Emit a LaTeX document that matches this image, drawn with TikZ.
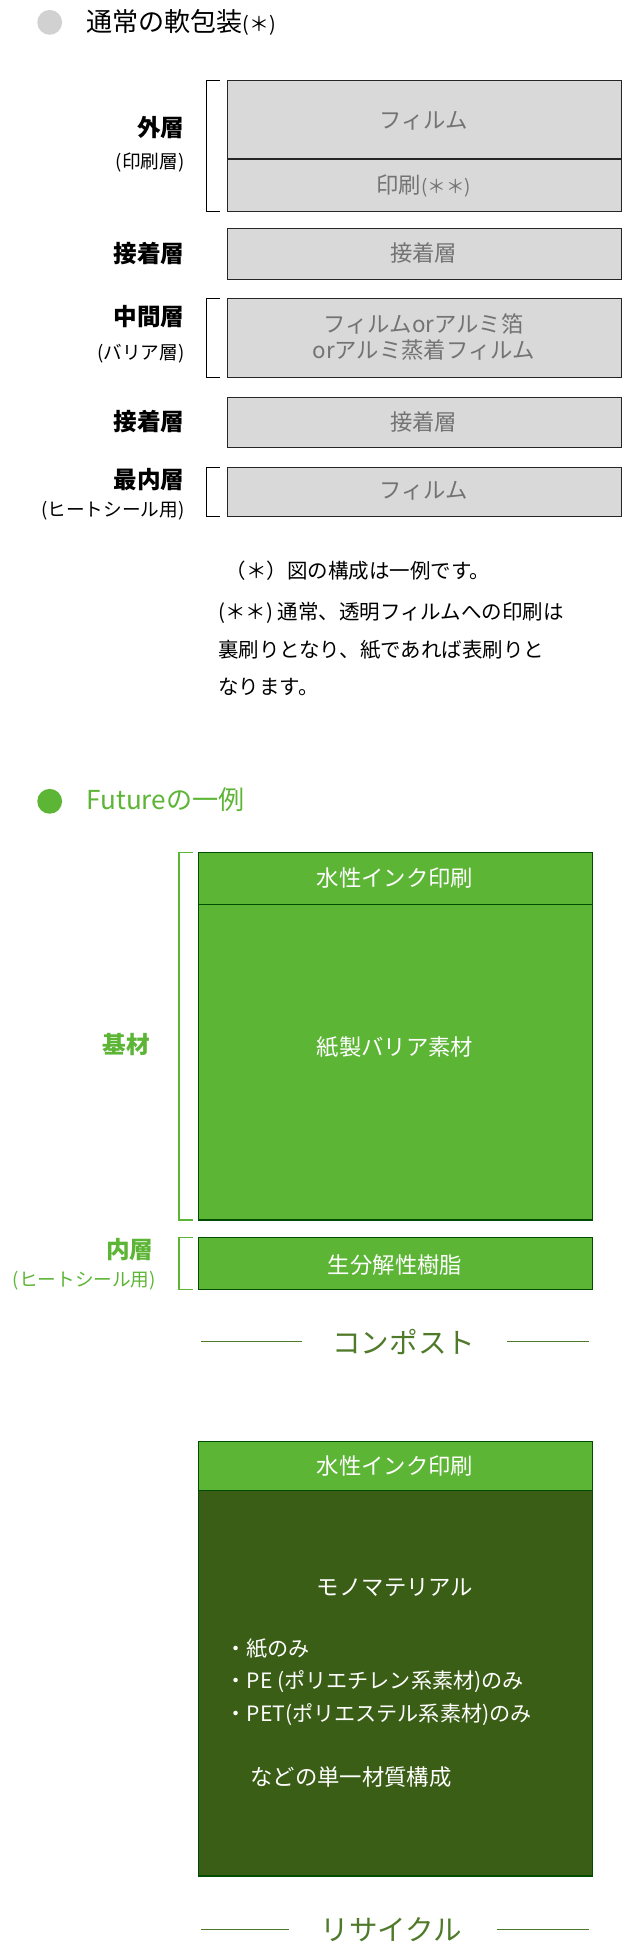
\documentclass[tikz,border=0pt]{standalone}
\usepackage{fontspec}
\setmainfont{Noto Sans CJK JP}
\newfontfamily\medf{Noto Sans CJK JP Medium}
\begin{document}
\begin{tikzpicture}[x=1pt,y=-1pt,
  gbox/.style={draw=black!85,fill=black!15,line width=1pt},
  gtxt/.style={text=black!55,font=\fontsize{18}{21}\selectfont},
  lab/.style={anchor=east,font=\bfseries\fontsize{19}{21}\selectfont},
  sub/.style={anchor=east,font=\fontsize{15}{17}\selectfont},
  brk/.style={line width=1pt},
  lbox/.style={draw=green!30!black,fill=lgreen,line width=1pt},
  wt/.style={text=white,font=\fontsize{18}{21}\selectfont}]
\definecolor{lgreen}{HTML}{5DB536}
\definecolor{dgreen}{HTML}{3B5E17}
\definecolor{tgreen}{HTML}{5DB536}
\definecolor{ogreen}{HTML}{4F7A2A}
\useasboundingbox (0,0) rectangle (504,1568);
% section 1
\fill[black!18] (40,18) circle (10);
\node[anchor=west,font=\fontsize{21}{23}\selectfont] (t1) at (66,18) {通常の軟包装\fontsize{16}{17}\selectfont(＊)};
\draw[gbox] (183,65) rectangle (500,170);
\draw[line width=1pt,black!85] (183,128) -- (500,128);
\node[gtxt] (f1) at (341,97) {フィルム};
\node[gtxt] (p1) at (341,150) {印刷\fontsize{15}{16}\selectfont(＊＊)};
\draw[gbox] (183,184) rectangle (500,225); \node[gtxt] (a1) at (341,204) {接着層};
\draw[gbox] (183,240) rectangle (500,304);
\node[gtxt,align=center] (m1) at (341,271) {フィルムorアルミ箔\\orアルミ蒸着フィルム};
\draw[gbox] (183,320) rectangle (500,360); \node[gtxt] (a2) at (341,340) {接着層};
\draw[gbox] (183,376) rectangle (500,416); \node[gtxt] (f2) at (341,395) {フィルム};
\node[lab] at (152,103) {外層}; \node[sub] at (152,131) {(印刷層)};
\node[lab] at (152,204) {接着層};
\node[lab] at (152,255) {中間層}; \node[sub] at (152,285) {(バリア層)};
\node[lab] at (152,339) {接着層};
\node[lab] at (152,386) {最内層}; \node[sub] at (152,411) {(ヒートシール用)};
\draw[brk] (177,65)--(166,65)--(166,170)--(177,170);
\draw[brk] (177,240)--(166,240)--(166,304)--(177,304);
\draw[brk] (177,376)--(166,376)--(166,416)--(177,416);
\node[anchor=west,font=\fontsize{16.5}{20}\selectfont] at (178,459) {（＊）図の構成は一例です。};
\node[anchor=north west,align=left,font=\fontsize{16.5}{30.5}\selectfont] at (172,481) {(＊＊) 通常、透明フィルムへの印刷は\\裏刷りとなり、紙であれば表刷りと\\なります。};
% section 2
\fill[lgreen] (40,645) circle (10);
\node[anchor=west,text=tgreen,font=\fontsize{21}{23}\selectfont] at (66,644) {Futureの一例};
\draw[lbox] (160,686) rectangle (477,982);
\draw[line width=1pt,green!30!black] (160,728) -- (477,728);
\node[wt] at (318,707) {水性インク印刷};
\node[wt] at (318,843) {紙製バリア素材};
\draw[brk,tgreen] (155,686)--(144,686)--(144,982)--(155,982);
\node[lab,text=tgreen] at (124,841) {基材};
\draw[lbox] (160,996) rectangle (477,1038);
\node[wt] at (318,1018) {生分解性樹脂};
\draw[brk,tgreen] (155,996)--(144,996)--(144,1038)--(155,1038);
\node[lab,text=tgreen] at (127,1006) {内層};
\node[sub,text=tgreen] at (129,1031) {(ヒートシール用)};
\node[text=ogreen,font=\fontsize{23}{25}\selectfont] (c) at (325,1080) {コンポスト};
\draw[ogreen,line width=1pt] (162,1080)--(243,1080) (408,1080)--(474,1080);
% section 3
\draw[lbox] (160,1160) rectangle (477,1200);
\node[wt] at (318,1180) {水性インク印刷};
\fill[dgreen] (160,1200) rectangle (477,1510);
\draw[green!30!black,line width=1pt] (160,1200) rectangle (477,1510);
\node[wt] at (318,1278) {モノマテリアル};
\node[wt,anchor=west,align=left,font=\fontsize{17}{26}\selectfont] at (178,1354) {・紙のみ\\・PE (ポリエチレン系素材)のみ\\・PET(ポリエステル系素材)のみ};
\node[wt,anchor=west] at (198,1430) {などの単一材質構成};
\node[text=ogreen,font=\fontsize{23}{25}\selectfont] (r) at (315,1553) {リサイクル};
\draw[ogreen,line width=1pt] (162,1553)--(233,1553) (400,1553)--(474,1553);
\end{tikzpicture}
\end{document}
